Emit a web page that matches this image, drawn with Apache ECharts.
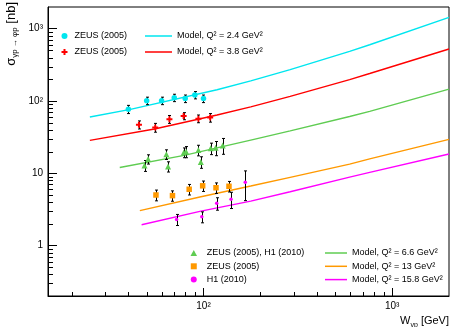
<!DOCTYPE html>
<html><head><meta charset="utf-8">
<script src="https://cdn.jsdelivr.net/npm/echarts@6/dist/echarts.min.js"></script>
<style>html,body{margin:0;padding:0;background:#fff}#c{width:451px;height:327px}</style>
</head><body><div id="c"></div>
<script>
// Axis ranges and tick values
const X_MIN = 15, X_MAX = 2000, Y_MIN = 0.2, Y_MAX = 2000;
const xMinorTicks = [20,30,40,50,60,70,80,90,200,300,400,500,600,700,800,900];
const yMinorTicks = [0.3,0.4,0.5,0.6,0.7,0.8,0.9,2,3,4,5,6,7,8,9,20,30,40,50,60,70,80,90,200,300,400,500,600,700,800,900];

// ZEUS (2005), Q2 = 2.4 GeV2
const cyanW = [40, 50, 60, 70, 80, 90, 100];
const cyanS = [77, 101, 101, 111, 108, 121, 108];
const cyanE = [10, 12, 12, 13, 13, 14, 13];
// ZEUS (2005), Q2 = 3.8 GeV2
const redW = [45.5, 55.5, 66, 78.5, 94, 108.5];
const redS = [47, 43, 56, 62, 57, 59];
const redE = [6, 6, 7, 7, 7, 8];
// ZEUS (2005), H1 (2010), Q2 = 6.6 GeV2
const greenW = [48.7, 50.9, 63.6, 64.9, 78.6, 81, 94, 96.8, 109.2, 116, 126.4];
const greenS = [12.8, 15.7, 18.3, 12.4, 19.4, 19.9, 20.9, 14.3, 22.1, 22.5, 24.3];
const greenE = [2.2, 2.3, 2.8, 2.0, 3.0, 3.5, 3.5, 2.6, 4.0, 5.0, 6.0];
// ZEUS (2005), Q2 = 13 GeV2
const orangeW = [56, 68.5, 84, 99, 116.5, 136.5];
const orangeS = [5.0, 4.9, 6.0, 6.7, 6.3, 6.6];
const orangeE = [0.85, 0.8, 1.0, 1.1, 1.05, 1.1];
// H1 (2010), Q2 = 15.8 GeV2
const magW = [72, 98, 117.5, 140, 166.5];
const magS = [2.29, 2.49, 3.83, 4.35, 7.48];
const magE = [0.4, 0.43, 0.75, 1.1, 3.3];

// Model curves [W, sigma]
const model24 = [[25,60],[41,76.5],[118,143],[178,190],[288,272],[595,485],[760,600],[2000,1440]];
const model38 = [[25,28.5],[55,41],[118,64],[178,83],[288,116],[595,198],[760,240],[2000,525]];
const model66 = [[36,12],[79,17.7],[178,28.8],[288,38.6],[595,61],[760,72],[2000,146]];
const model13 = [[46,3.04],[97,4.73],[178,6.65],[288,8.77],[595,13.4],[760,15.8],[2000,29.5]];
const model158 = [[47,1.94],[97,2.99],[178,4.12],[288,5.55],[595,8.85],[760,10.3],[2000,18.5]];

const FONT = "'Liberation Sans', Arial, Helvetica, sans-serif";
const C_CYAN = '#00e6ef', C_RED = '#ff0000', C_GREEN = '#5fcc52', C_ORANGE = '#ff9900', C_MAG = '#ff00ff';
const SYM_PLUS = 'path://M2,0H4V2H6V4H4V6H2V4H0V2H2Z';
const SYM_TRI = 'path://M3,0L6,5.5H0Z';
const SYM_SQ = 'path://M0,0H6V6H0Z';
const SYM_CIRC = 'path://M3,0A3,3 0 1 1 2.999,0Z';

function errSeries(W, S, E) {
  return {
    type: 'custom', silent: true, z: 2, clip: false,
    data: W.map((w, i) => [w, S[i], E[i]]),
    encode: { x: 0, y: 1 },
    renderItem(params, api) {
      const w = api.value(0), s = api.value(1), e = api.value(2);
      const t = api.coord([w, s + e]), b = api.coord([w, s - e]);
      const x = Math.round(t[0]) + 0.5, c = 1.5;
      const st = { stroke: '#000', lineWidth: 1 };
      return { type: 'group', children: [
        { type: 'line', shape: { x1: x, y1: t[1], x2: x, y2: b[1] }, style: st },
        { type: 'line', shape: { x1: x - c, y1: t[1], x2: x + c, y2: t[1] }, style: st },
        { type: 'line', shape: { x1: x - c, y1: b[1], x2: x + c, y2: b[1] }, style: st }
      ]};
    }
  };
}
function pts(name, W, S, symbol, size, color) {
  return { type: 'scatter', name, z: 3, symbol, symbolSize: size,
    itemStyle: { color, opacity: 1 }, data: W.map((w, i) => [w, S[i]]) };
}
function model(name, data, color) {
  return { type: 'line', name, z: 1, symbol: 'none', smooth: false,
    lineStyle: { color, width: 1.4 }, itemStyle: { color }, data };
}
function minorX() {
  return { type: 'custom', silent: true, z: 4, clip: false,
    data: xMinorTicks.map(v => [v, Y_MIN]),
    renderItem(p, api) {
      const q = api.coord([api.value(0), api.value(1)]);
      const x = Math.round(q[0]) + 0.5;
      return { type: 'line', shape: { x1: x, y1: q[1], x2: x, y2: q[1] - 4 }, style: { stroke: '#000', lineWidth: 1 } };
    } };
}
function minorY() {
  return { type: 'custom', silent: true, z: 4, clip: false,
    data: yMinorTicks.map(v => [X_MIN, v]),
    renderItem(p, api) {
      const q = api.coord([api.value(0), api.value(1)]);
      const y = Math.round(q[1]) + 0.5;
      return { type: 'line', shape: { x1: q[0], y1: y, x2: q[0] + 5, y2: y }, style: { stroke: '#000', lineWidth: 1 } };
    } };
}
function powLabel(v) {
  const e = Math.log10(v), r = Math.round(e);
  if (Math.abs(e - r) > 1e-6) return '';
  if (r === 0) return '1';
  if (r === 1) return '10';
  const sup = { 2: '\u00B2', 3: '\u00B3' };
  return '10' + (sup[r] || '^' + r);
}
const legText = { fontSize: 9, lineHeight: 12, color: '#000', fontFamily: FONT };
const fmt = n => n.split('|')[0];

const M24 = 'Model, Q\u00B2 = 2.4 GeV\u00B2', M38 = 'Model, Q\u00B2 = 3.8 GeV\u00B2';
const M66 = 'Model, Q\u00B2 = 6.6 GeV\u00B2', M13 = 'Model, Q\u00B2 = 13 GeV\u00B2', M158 = 'Model, Q\u00B2 = 15.8 GeV\u00B2';

const chart = echarts.init(document.getElementById('c'), null, { renderer: 'canvas' });
chart.setOption({
  animation: false,
  backgroundColor: '#fff',
  grid: { left: 48, right: 2, top: 7, bottom: 31, show: true, borderColor: '#000', borderWidth: 1, containLabel: false, outerBoundsMode: 'none' },
  xAxis: { type: 'log', logBase: 10, min: X_MIN, max: X_MAX,
    axisLine: { show: true, lineStyle: { color: '#000', width: 1 } },
    axisTick: { show: true, inside: true, length: 8, lineStyle: { color: '#000' } },
    axisLabel: { margin: 5, fontSize: 10, color: '#000', fontFamily: FONT, formatter: powLabel, showMinLabel: false, showMaxLabel: false },
    splitLine: { show: false }, minorTick: { show: false } },
  yAxis: { type: 'log', logBase: 10, min: Y_MIN, max: Y_MAX,
    axisLine: { show: true, lineStyle: { color: '#000', width: 1 } },
    axisTick: { show: true, inside: true, length: 9, lineStyle: { color: '#000' } },
    axisLabel: { margin: 5, fontSize: 10, color: '#000', fontFamily: FONT, formatter: powLabel, showMinLabel: false, showMaxLabel: false },
    splitLine: { show: false }, minorTick: { show: false } },
  legend: [
    { left: 61.5, top: 30, padding: 0, orient: 'vertical', itemWidth: 10, itemHeight: 6, itemGap: 4, selectedMode: false,
      data: [{ name: 'ZEUS (2005)|c', icon: SYM_CIRC }, { name: 'ZEUS (2005)|r', icon: SYM_PLUS }], formatter: fmt, textStyle: legText },
    { left: 145, top: 30, padding: 0, orient: 'vertical', itemWidth: 27, itemHeight: 1.5, itemGap: 4, selectedMode: false,
      data: [{ name: M24, icon: 'rect' }, { name: M38, icon: 'rect' }], textStyle: legText },
    { left: 190.5, top: 247, padding: 0, orient: 'vertical', itemWidth: 16, itemHeight: 6, itemGap: 1.3, selectedMode: false,
      data: [{ name: 'ZEUS (2005), H1 (2010)', icon: SYM_TRI }, { name: 'ZEUS (2005)|o', icon: SYM_SQ }, { name: 'H1 (2010)', icon: 'path://M2,0A2,2 0 1 1 1.999,0Z' }],
      formatter: fmt, textStyle: legText },
    { left: 325, top: 247, padding: 0, orient: 'vertical', itemWidth: 22, itemHeight: 1.5, itemGap: 1.3, selectedMode: false,
      data: [{ name: M66, icon: 'rect' }, { name: M13, icon: 'rect' }, { name: M158, icon: 'rect' }], textStyle: legText }
  ],
  graphic: [
    { type: 'text', x: 449, y: 321, z: 10, style: {
      text: '{s|W}{b|\u03B3p}{s| [GeV]}', align: 'right', verticalAlign: 'middle', fill: '#000',
      rich: { s: { fontSize: 11, lineHeight: 15, fontFamily: FONT, fill: '#000' },
              b: { fontSize: 7, lineHeight: 7, verticalAlign: 'bottom', fontFamily: FONT, fill: '#000' } } } },
    { type: 'text', x: 11, y: 2, rotation: Math.PI / 2, z: 10, style: {
      text: '{s|\u03C3}{b|\u03B3p \u2192 \u03C6p}{s| [nb]}', align: 'right', verticalAlign: 'middle', fill: '#000',
      rich: { s: { fontSize: 13, lineHeight: 15, fontFamily: FONT, fill: '#000' },
              b: { fontSize: 8, lineHeight: 8, verticalAlign: 'bottom', fontFamily: FONT, fill: '#000' } } } }
  ],
  series: [
    model(M24, model24, C_CYAN),
    model(M38, model38, C_RED),
    model(M66, model66, C_GREEN),
    model(M13, model13, C_ORANGE),
    model(M158, model158, C_MAG),
    errSeries(cyanW, cyanS, cyanE),
    errSeries(redW, redS, redE),
    errSeries(greenW, greenS, greenE),
    errSeries(orangeW, orangeS, orangeE),
    errSeries(magW, magS, magE),
    pts('ZEUS (2005)|c', cyanW, cyanS, 'circle', 5.5, C_CYAN),
    pts('ZEUS (2005)|r', redW, redS, SYM_PLUS, 6, C_RED),
    pts('ZEUS (2005), H1 (2010)', greenW, greenS, 'triangle', 6, C_GREEN),
    pts('ZEUS (2005)|o', orangeW, orangeS, 'rect', 5.5, C_ORANGE),
    pts('H1 (2010)', magW, magS, 'circle', 3.5, C_MAG),
    minorX(),
    minorY()
  ]
});
</script>
</body></html>
